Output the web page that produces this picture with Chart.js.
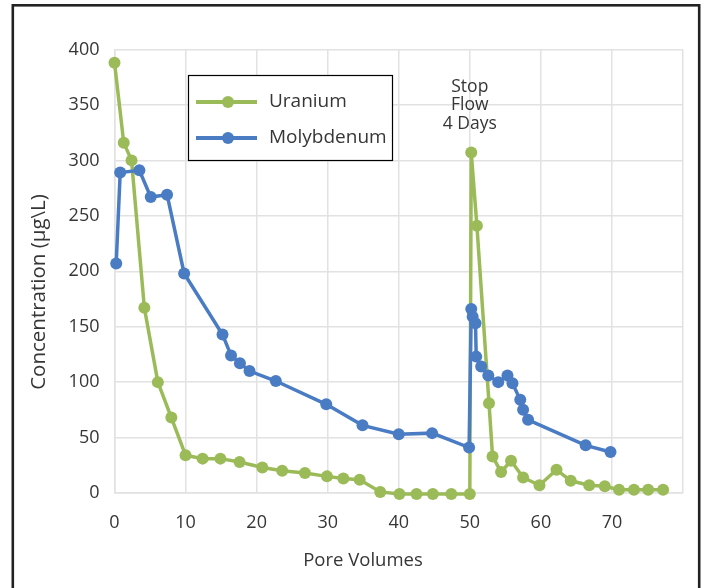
<!DOCTYPE html>
<html>
<head>
<meta charset="utf-8">
<script src="https://cdn.jsdelivr.net/npm/chart.js@4"></script>
<style>
  html, body { margin: 0; padding: 0; background: #ffffff; overflow: hidden; }
  #wrap { position: relative; width: 702px; height: 588px; }
</style>
</head>
<body>
<div id="wrap"><canvas id="c" width="702" height="588"></canvas></div>
<script>
// ---- Data ----
const seriesNames = ["Uranium", "Molybdenum"];
const uraniumX = [0, 1.3, 2.4, 4.2, 6.1, 8.0, 10.0, 12.4, 14.9, 17.6, 20.8, 23.6, 26.8, 29.9, 32.2, 34.5, 37.4,
                  40.1, 42.5, 44.8, 47.4, 50.0, 50.2, 51.0, 52.7, 53.2, 54.4, 55.8, 57.5, 59.8, 62.2, 64.2, 66.8,
                  69.0, 71.0, 73.1, 75.1, 77.2];
const uraniumY = [388, 316, 300, 167, 100, 68, 34, 31, 31, 28, 23, 20, 18, 15, 13, 12, 1,
                  -1, -1, -1, -1, -1, 307, 241, 81, 33, 19, 29, 14, 7, 21, 11, 7,
                  6, 3, 3, 3, 3];
const molyX = [0.24, 0.8, 3.5, 5.1, 7.4, 9.8, 15.2, 16.4, 17.65, 19.0, 22.7, 29.8, 34.9, 40.0, 44.7, 49.9,
               50.2, 50.4, 50.8, 50.9, 51.6, 52.6, 54.0, 55.3, 56.0, 57.1, 57.5, 58.2, 66.3, 69.8];
const molyY = [207, 289, 291, 267, 269, 198, 143, 124, 117, 110, 101, 80, 61, 53, 54, 41,
               166, 159, 153, 123, 114, 106, 100, 106, 99, 84, 75, 66, 43, 37];
const xTickValues = [0, 10, 20, 30, 40, 50, 60, 70];
const yTickValues = [0, 50, 100, 150, 200, 250, 300, 350, 400];
const xTitle = "Pore Volumes";
const yTitle = "Concentration (µg\\L)";
const noteLines = ["Stop", "Flow", "4 Days"];
const noteAtX = 50;

const GREEN = "#9BBB59";
const BLUE = "#4A7CC4";
const GRID = "#e2e2e2";
const TEXT = "#363636";
const FONT = "'Open Sans', 'Noto Sans', sans-serif";

function pts(xs, ys) { return xs.map((x, i) => ({ x: x, y: ys[i] })); }

const extras = {
  id: "extras",
  afterDraw(chart) {
    const ctx = chart.ctx;
    const xs = chart.scales.x;
    ctx.save();
    ctx.fillStyle = TEXT;
    // axis titles
    ctx.textAlign = "center";
    ctx.textBaseline = "middle";
    ctx.font = "18.5px " + FONT;
    ctx.fillText(xTitle, 363, 561);
    ctx.save();
    ctx.translate(39, 292);
    ctx.rotate(-Math.PI / 2);
    ctx.font = "20.5px " + FONT;
    ctx.fillText(yTitle, 0, 0);
    ctx.restore();
    // annotation
    ctx.font = "17.5px " + FONT;
    const nx = xs.getPixelForValue(noteAtX);
    noteLines.forEach((t, i) => ctx.fillText(t, nx, 87 + i * 18.3));
    // legend box
    const bx = 188.5, by = 75.5, bw = 204, bh = 85;
    ctx.fillStyle = "#ffffff";
    ctx.fillRect(bx, by, bw, bh);
    ctx.strokeStyle = "#000000";
    ctx.lineWidth = 1.2;
    ctx.strokeRect(bx, by, bw, bh);
    const rows = [{ c: GREEN, y: 102 }, { c: BLUE, y: 138 }];
    ctx.font = "19px " + FONT;
    ctx.textAlign = "left";
    rows.forEach((r, i) => {
      ctx.strokeStyle = r.c;
      ctx.lineWidth = 4;
      ctx.beginPath();
      ctx.moveTo(196, r.y);
      ctx.lineTo(257, r.y);
      ctx.stroke();
      ctx.fillStyle = r.c;
      ctx.beginPath();
      ctx.arc(228, r.y, 6, 0, Math.PI * 2);
      ctx.fill();
      ctx.fillStyle = TEXT;
      ctx.fillText(seriesNames[i], 269, r.y);
    });
    // outer frame
    ctx.strokeStyle = "#222222";
    ctx.lineWidth = 2.6;
    ctx.strokeRect(12.8, 5.3, 686.4, 700);
    ctx.restore();
  }
};

new Chart(document.getElementById("c"), {
  type: "scatter",
  data: {
    datasets: [
      {
        label: seriesNames[0],
        data: pts(uraniumX, uraniumY),
        showLine: true,
        borderColor: GREEN,
        backgroundColor: GREEN,
        borderWidth: 3.5,
        pointRadius: 6,
        pointBorderWidth: 0,
        pointBackgroundColor: GREEN,
        tension: 0,
        clip: false,
        order: 1
      },
      {
        label: seriesNames[1],
        data: pts(molyX, molyY),
        showLine: true,
        borderColor: BLUE,
        backgroundColor: BLUE,
        borderWidth: 3.5,
        pointRadius: 6,
        pointBorderWidth: 0,
        pointBackgroundColor: BLUE,
        tension: 0,
        clip: false,
        order: 0
      }
    ]
  },
  options: {
    responsive: false,
    animation: false,
    devicePixelRatio: 1,
    layout: { padding: { top: 49.5, right: 18, left: 0, bottom: 0 } },
    plugins: { legend: { display: false }, tooltip: { enabled: false } },
    scales: {
      x: {
        type: "linear",
        min: 0,
        max: 80,
        afterBuildTicks(scale) { scale.ticks = [...xTickValues, 80].map(v => ({ value: v })); },
        afterFit(scale) { scale.height = 95; },
        ticks: {
          callback: (v) => (xTickValues.includes(v) ? String(v) : ""),
          font: { family: FONT, size: 18 },
          color: TEXT,
          padding: 19,
          maxRotation: 0,
          autoSkip: false
        },
        grid: { color: GRID, lineWidth: 1.5, drawTicks: false },
        border: { color: GRID, width: 1.5 }
      },
      y: {
        min: 0,
        max: 400,
        afterBuildTicks(scale) { scale.ticks = yTickValues.map(v => ({ value: v })); },
        afterFit(scale) { scale.width = 114.5; },
        ticks: {
          font: { family: FONT, size: 18 },
          color: TEXT,
          padding: 15
        },
        grid: { color: GRID, lineWidth: 1.5, drawTicks: false },
        border: { color: GRID, width: 1.5 }
      }
    }
  },
  plugins: [extras]
});
</script>
</body>
</html>
